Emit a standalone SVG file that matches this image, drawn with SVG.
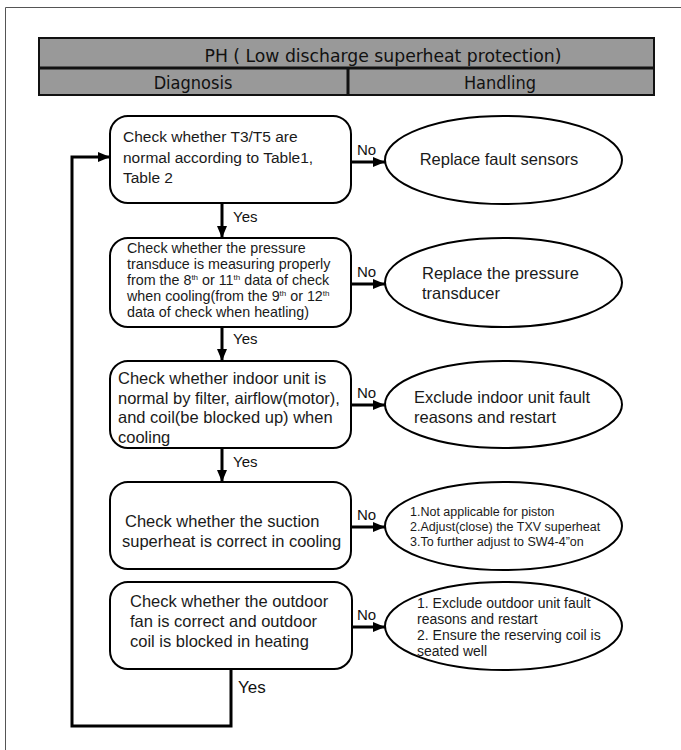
<svg xmlns="http://www.w3.org/2000/svg" width="681" height="750" viewBox="0 0 681 750">
<defs>
<marker id="ah" viewBox="0 0 12 10" refX="12" refY="5" markerWidth="12" markerHeight="10" markerUnits="userSpaceOnUse" orient="auto"><path d="M0,0 L12,5 L0,10 z" fill="#000"/></marker>
<style>
.frame{fill:none;stroke:#555;stroke-width:1}
.hdr{fill:#999;stroke:#111;stroke-width:2}
.hdrline{stroke:#111;stroke-width:3}
.ht{font-family:"DejaVu Sans Condensed","Liberation Sans",sans-serif;font-size:18px;fill:#111}
.box{fill:#fff;stroke:#000;stroke-width:2}
.t{font-family:"Liberation Sans",Arial,sans-serif;fill:#1a1a1a}
.lbl{font-family:"Liberation Sans",Arial,sans-serif;font-size:15px;fill:#111}
.con{fill:none;stroke:#000;stroke-width:3}
.sup{font-size:8px}
</style>
</defs>
<rect width="681" height="750" fill="#fff"/>
<path class="frame" d="M5.5,750 V7.5 H681"/>
<g id="header">
<rect class="hdr" x="39" y="38" width="615" height="57"/>
<line class="hdrline" x1="39" y1="68" x2="654" y2="68"/>
<line class="hdrline" x1="348" y1="68" x2="348" y2="95"/>
<text class="ht" x="383" y="62" text-anchor="middle" textLength="357" lengthAdjust="spacingAndGlyphs">PH ( Low discharge superheat protection)</text>
<text class="ht" x="193" y="89" text-anchor="middle">Diagnosis</text>
<text class="ht" x="500" y="89" text-anchor="middle">Handling</text>
</g>
<g id="connectors">
<line class="con" x1="351" y1="162" x2="385" y2="162" marker-end="url(#ah)"/>
<line class="con" x1="351" y1="284" x2="385" y2="284" marker-end="url(#ah)"/>
<line class="con" x1="351" y1="405" x2="385" y2="405" marker-end="url(#ah)"/>
<line class="con" x1="351" y1="527" x2="385" y2="527" marker-end="url(#ah)"/>
<line class="con" x1="351" y1="627" x2="385" y2="627" marker-end="url(#ah)"/>
<line class="con" x1="222" y1="203" x2="222" y2="238" marker-end="url(#ah)"/>
<line class="con" x1="222" y1="327" x2="222" y2="361" marker-end="url(#ah)"/>
<line class="con" x1="222" y1="448" x2="222" y2="482" marker-end="url(#ah)"/>
<path class="con" d="M231,669 V726 H72 V157 H110" marker-end="url(#ah)"/>
<text class="lbl" x="357" y="155">No</text>
<text class="lbl" x="357" y="277">No</text>
<text class="lbl" x="357" y="398">No</text>
<text class="lbl" x="357" y="520">No</text>
<text class="lbl" x="357" y="620">No</text>
<text class="lbl" x="233" y="222">Yes</text>
<text class="lbl" x="233" y="344">Yes</text>
<text class="lbl" x="233" y="467">Yes</text>
<text class="lbl" x="238" y="693" style="font-size:17px">Yes</text>
</g>
<g id="n1">
<rect class="box" x="110" y="116" width="241" height="87" rx="18"/>
<text class="t" font-size="15.5"><tspan x="123" y="142">Check whether T3/T5 are</tspan><tspan x="123" y="163">normal according to Table1,</tspan><tspan x="123" y="183">Table 2</tspan></text>
</g>
<g id="h1">
<ellipse class="box" cx="503.5" cy="160" rx="118.5" ry="44"/>
<text class="t" font-size="16.5" x="499" y="165" text-anchor="middle">Replace fault sensors</text>
</g>
<g id="n2">
<rect class="box" x="110" y="238" width="241" height="89" rx="18"/>
<text class="t" font-size="14.3"><tspan x="127" y="253">Check whether the pressure</tspan><tspan x="127" y="269">transduce is measuring properly</tspan><tspan x="127" y="285">from the 8<tspan class="sup" baseline-shift="5">th</tspan> or 11<tspan class="sup" baseline-shift="5">th</tspan> data of check</tspan><tspan x="127" y="301">when cooling(from the 9<tspan class="sup" baseline-shift="5">th</tspan> or 12<tspan class="sup" baseline-shift="5">th</tspan></tspan><tspan x="127" y="317">data of check when heatling)</tspan></text>
</g>
<g id="h2">
<ellipse class="box" cx="503.5" cy="282.5" rx="118.5" ry="44.5"/>
<text class="t" font-size="16.5"><tspan x="422" y="279">Replace the pressure</tspan><tspan x="422" y="299">transducer</tspan></text>
</g>
<g id="n3">
<rect class="box" x="110" y="361" width="241" height="87" rx="18"/>
<text class="t" font-size="16.5"><tspan x="118" y="384">Check whether indoor unit is</tspan><tspan x="118" y="404">normal by filter, airflow(motor),</tspan><tspan x="118" y="423">and coil(be blocked up) when</tspan><tspan x="118" y="443">cooling</tspan></text>
</g>
<g id="h3">
<ellipse class="box" cx="503.5" cy="404.5" rx="118.5" ry="43.5"/>
<text class="t" font-size="16.5"><tspan x="414" y="403">Exclude indoor unit fault</tspan><tspan x="414" y="423">reasons and restart</tspan></text>
</g>
<g id="n4">
<rect class="box" x="110" y="482" width="241" height="87" rx="18"/>
<text class="t" font-size="16.5"><tspan x="125" y="527">Check whether the suction</tspan><tspan x="122" y="547">superheat is correct in cooling</tspan></text>
</g>
<g id="h4">
<ellipse class="box" cx="503.5" cy="526" rx="118.5" ry="44"/>
<text class="t" font-size="12.5"><tspan x="410" y="516">1.Not applicable for piston</tspan><tspan x="410" y="531">2.Adjust(close) the TXV superheat</tspan><tspan x="410" y="546">3.To further adjust to SW4-4”on</tspan></text>
</g>
<g id="n5">
<rect class="box" x="110" y="582" width="242" height="87" rx="18"/>
<text class="t" font-size="16.5"><tspan x="130" y="607">Check whether the outdoor</tspan><tspan x="130" y="627">fan is correct and outdoor</tspan><tspan x="130" y="647">coil is blocked in heating</tspan></text>
</g>
<g id="h5">
<ellipse class="box" cx="503.5" cy="626" rx="118.5" ry="44"/>
<text class="t" font-size="14"><tspan x="417" y="608">1. Exclude outdoor unit fault</tspan><tspan x="417" y="624">reasons and restart</tspan><tspan x="417" y="640">2. Ensure the reserving coil is</tspan><tspan x="417" y="656">seated well</tspan></text>
</g>
</svg>
